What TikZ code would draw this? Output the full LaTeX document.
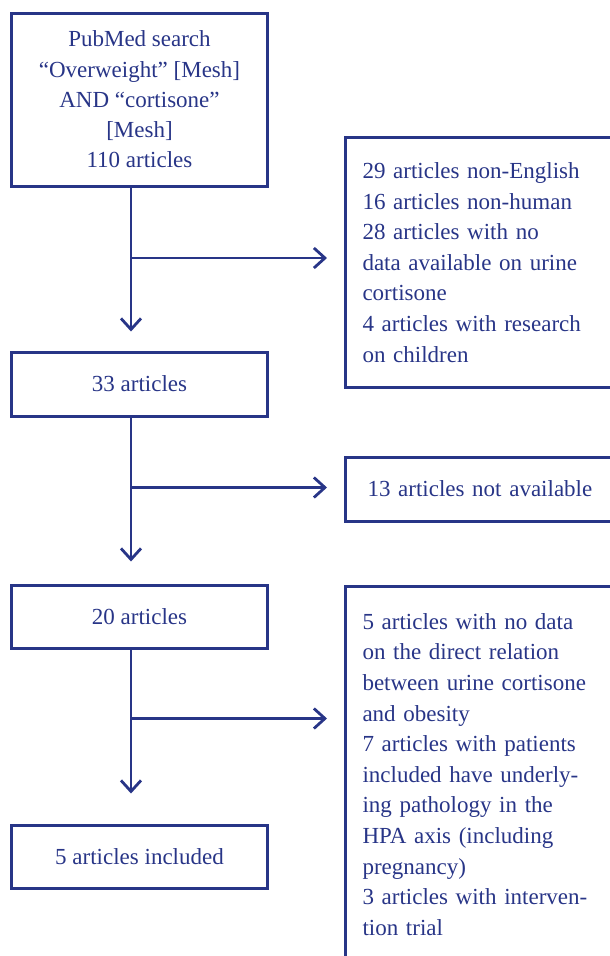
\documentclass[tikz,border=0pt]{standalone}
\usepackage{fontspec}
\setmainfont{Liberation Serif}
\usetikzlibrary{arrows.meta}
\definecolor{navy}{RGB}{40,53,135}
\begin{document}
\begin{tikzpicture}[x=1bp,y=-1bp,
  lbox/.style={draw=navy,line width=3bp,text=navy,inner sep=0pt,
    minimum width=255bp,align=center,font=\fontsize{23bp}{30.3bp}\selectfont},
  rbox/.style={draw=navy,line width=3bp,text=navy,inner xsep=17bp,inner ysep=0pt,
    text width=300bp,align=left,anchor=north west,font=\fontsize{23bp}{30.6bp}\selectfont},
  arr/.style={draw=navy,line width=2.8bp,-{Straight Barb[length=11bp,width=20bp,line width=2.8bp]}}]
\useasboundingbox (0,0) rectangle (610,956);
\clip (0,0) rectangle (610,956);
% left column
\node[lbox,minimum height=173bp] (b1) at (139.5,99.5)
  {PubMed search\\ “Overweight” {[Mesh]}\\ AND “cortisone”\\ {[Mesh]}\\ 110 articles};
\node[lbox,minimum height=64bp] (b2) at (139.5,384) {33 articles};
\node[lbox,minimum height=63bp] (b3) at (139.5,616.5) {20 articles};
\node[lbox,minimum height=63bp] (b4) at (139.5,856.5) {5 articles included};
% right column
\node[rbox,minimum height=250bp] (r1) at (344,136)
  {29 articles non-English\\ 16 articles non-human\\ 28 articles with no\\ data available on urine\\ cortisone\\ 4 articles with research\\ on children};
\node[rbox,minimum height=64bp,inner xsep=22bp] (r2) at (344,455.5) {13 articles not available};
\node[rbox,minimum height=376bp] (r3) at (344,585)
  {5 articles with no data\\ on the direct relation\\ between urine cortisone\\ and obesity\\ 7 articles with patients\\ included have underly-\\ ing pathology in the\\ HPA axis (including\\ pregnancy)\\ 3 articles with interven-\\ tion trial};
% junctions
\coordinate (j1) at (131,258);
\coordinate (j2) at (131,487.5);
\coordinate (j3) at (131,718.5);
% connectors
\draw[arr,shorten >=19bp] (b1.south -| j1) -- (j1 |- b2.north);
\draw[arr,shorten >=17bp] (j1) -- (j1 -| r1.west);
\draw[arr,shorten >=22bp] (b2.south -| j2) -- (j2 |- b3.north);
\draw[arr,shorten >=17bp] (j2) -- (j2 -| r2.west);
\draw[arr,shorten >=30bp] (b3.south -| j3) -- (j3 |- b4.north);
\draw[arr,shorten >=17bp] (j3) -- (j3 -| r3.west);
\end{tikzpicture}
\end{document}
